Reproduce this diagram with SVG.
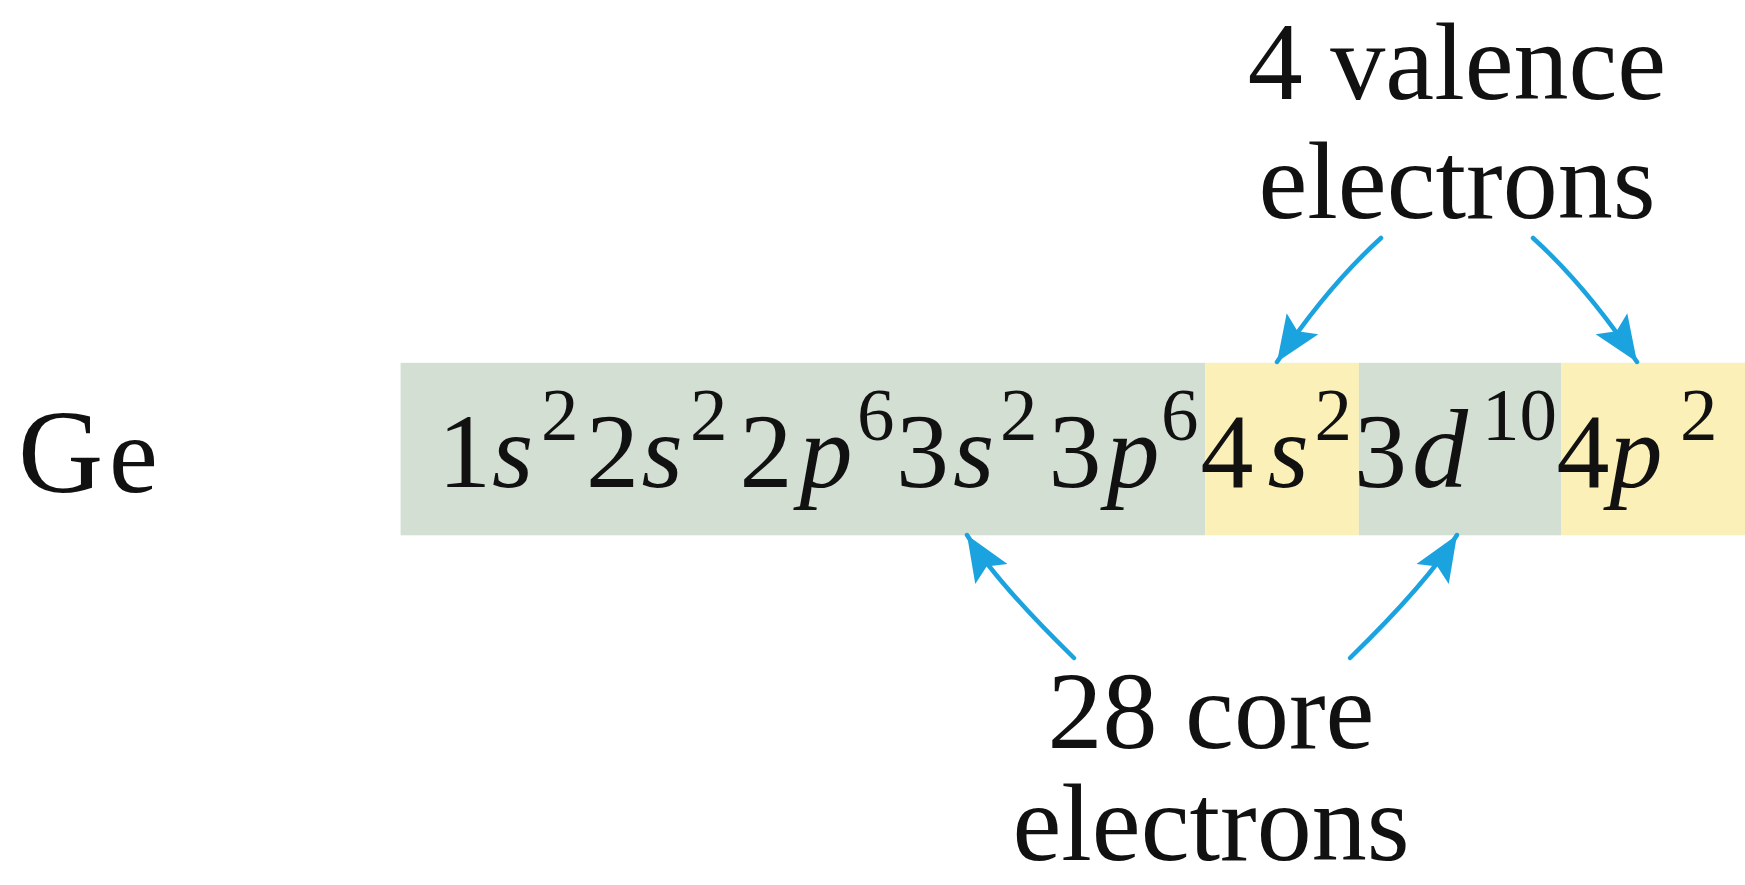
<svg xmlns="http://www.w3.org/2000/svg" width="1745" height="885" viewBox="0 0 1745 885">
<style>
.t{font-family:"Liberation Serif","Times New Roman",serif;fill:#111;}
.b{font-size:106px;}
.i{font-style:italic;}
.sup{font-size:75px;}
.lab{font-size:110px;text-anchor:middle;}
.core{fill:#d4dfd4;}
.val{fill:#fbf1b8;}
.arr{fill:none;stroke:#1ba3e0;stroke-width:4.5;stroke-linecap:round;marker-end:url(#ah);}
</style>
<defs>
<marker id="ah" markerUnits="userSpaceOnUse" viewBox="-48 -22 50 44" refX="0" refY="0" markerWidth="50" markerHeight="44" orient="auto">
<path d="M0,0 L-46,-19 L-37,0 L-46,19 Z" fill="#1ba3e0"/>
</marker>
</defs>
<rect width="1745" height="885" fill="#ffffff"/>
<g id="element">
<text class="t" x="18" y="492" font-size="118">G<tspan x="109" font-size="110">e</tspan></text>
</g>
<g id="config">
<rect class="core" x="400.6" y="362.8" width="804.7" height="172.5"/>
<rect class="val" x="1205.3" y="362.8" width="153.6" height="172.5"/>
<rect class="core" x="1358.9" y="362.8" width="202.5" height="172.5"/>
<rect class="val" x="1561.4" y="362.8" width="183.6" height="172.5"/>
<text class="t b" y="487">
<tspan x="438">1</tspan><tspan class="i" x="492">s</tspan><tspan class="sup" x="541" y="440">2</tspan>
<tspan x="586" y="487">2</tspan><tspan class="i" x="641.5">s</tspan><tspan class="sup" x="690" y="440">2</tspan>
<tspan x="739.5" y="487">2</tspan><tspan class="i" x="799.5">p</tspan><tspan class="sup" x="857" y="440">6</tspan>
<tspan x="896" y="487">3</tspan><tspan class="i" x="953">s</tspan><tspan class="sup" x="1000" y="440">2</tspan>
<tspan x="1048.5" y="487">3</tspan><tspan class="i" x="1106.5">p</tspan><tspan class="sup" x="1161" y="440">6</tspan>
<tspan x="1200.5" y="487">4</tspan><tspan class="i" x="1267.5">s</tspan><tspan class="sup" x="1314.5" y="440">2</tspan>
<tspan x="1354" y="487">3</tspan><tspan class="i" x="1412" font-size="112">d</tspan><tspan class="sup" x="1482" y="440">10</tspan>
<tspan x="1556.5" y="487">4</tspan><tspan class="i" x="1609.5">p</tspan><tspan class="sup" x="1680" y="440">2</tspan>
</text>
</g>
<g id="valence-label">
<text class="t lab" x="1457" y="99">4 valence</text>
<text class="t lab" x="1457" y="218">electrons</text>
</g>
<g id="core-label">
<text class="t lab" x="1211" y="748">28 core</text>
<text class="t lab" x="1211" y="860">electrons</text>
</g>
<g id="connectors">
<path class="arr" d="M1381,238 Q1327,287 1277,362"/>
<path class="arr" d="M1533,238 Q1587,287 1637,362"/>
<path class="arr" d="M1074,658 Q997,583 967,535"/>
<path class="arr" d="M1350,658 Q1427,583 1457,535"/>
</g>
</svg>
